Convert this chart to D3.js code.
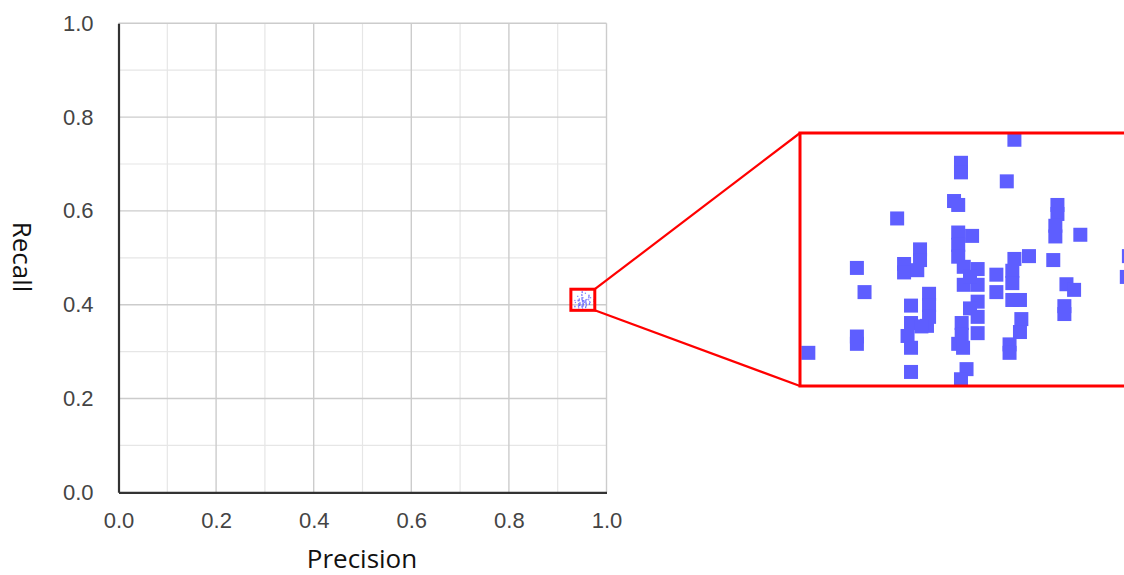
<!DOCTYPE html>
<html>
<head>
<meta charset="utf-8">
<script src="https://cdn.jsdelivr.net/npm/d3@7"></script>
<style>
  body { margin: 0; background: #fff; }
  svg { display: block; }
</style>
</head>
<body>
<svg width="1124" height="575"></svg>
<script>
// precision / recall points
var precision = [
  0.9579, 0.9502, 0.9502, 0.9568, 0.9492, 0.9498, 0.9410, 0.9641, 0.9641, 0.9638,
  0.9638, 0.9674, 0.9744, 0.9741, 0.9635, 0.9352, 0.9363, 0.9443, 0.9443, 0.9420,
  0.9420, 0.9439, 0.9498, 0.9518, 0.9498, 0.9498, 0.9506, 0.9526, 0.9506, 0.9526,
  0.9515, 0.9553, 0.9553, 0.9600, 0.9579, 0.9576, 0.9576, 0.9576, 0.9587, 0.9589,
  0.9587, 0.9572, 0.9572, 0.9654, 0.9665, 0.9651, 0.9651, 0.9456, 0.9456, 0.9456,
  0.9453, 0.9430, 0.9430, 0.9425, 0.9430, 0.9445, 0.9526, 0.9526, 0.9526, 0.9515,
  0.9503, 0.9503, 0.9498, 0.9505, 0.9282, 0.9352, 0.9352, 0.9430, 0.9510, 0.9502
];
var recall = [
  0.4318, 0.4277, 0.4260, 0.4244, 0.4209, 0.4202, 0.4178, 0.4202, 0.4186, 0.4165,
  0.4146, 0.4149, 0.4111, 0.4074, 0.4104, 0.4090, 0.4047, 0.4123, 0.4104, 0.4097,
  0.4082, 0.4086, 0.4153, 0.4147, 0.4131, 0.4110, 0.4092, 0.4088, 0.4060, 0.4060,
  0.4074, 0.4078, 0.4047, 0.4111, 0.4106, 0.4085, 0.4063, 0.4033, 0.4033, 0.3999,
  0.3976, 0.3954, 0.3939, 0.4061, 0.4051, 0.4022, 0.4008, 0.4044, 0.4024, 0.4003,
  0.3987, 0.4023, 0.3992, 0.3969, 0.3948, 0.3986, 0.4030, 0.4003, 0.3974, 0.4018,
  0.3992, 0.3971, 0.3955, 0.3948, 0.3939, 0.3968, 0.3955, 0.3905, 0.3910, 0.3892
];
var ticks = [0, 0.2, 0.4, 0.6, 0.8, 1.0];
var minorTicks = [0.1, 0.3, 0.5, 0.7, 0.9];
var zoomX = [0.927, 0.976];
var zoomY = [0.388, 0.433];

var points = precision.map(function(p, i) { return {x: p, y: recall[i]}; });

var svg = d3.select("svg");
var blue = "#5e5eff";

var x = d3.scaleLinear().domain([0, 1]).range([118.5, 606.5]);
var y = d3.scaleLinear().domain([0, 1]).range([492.3, 23.3]);

// grid
var grid = svg.append("g");
grid.selectAll(".vminor").data(minorTicks).enter().append("line")
    .attr("x1", x).attr("x2", x).attr("y1", y(0)).attr("y2", y(1))
    .attr("stroke", "#e6e6e6").attr("stroke-width", 1.2);
grid.selectAll(".hminor").data(minorTicks).enter().append("line")
    .attr("y1", y).attr("y2", y).attr("x1", x(0)).attr("x2", x(1))
    .attr("stroke", "#e6e6e6").attr("stroke-width", 1.2);
grid.selectAll(".vmajor").data(ticks.slice(1)).enter().append("line")
    .attr("x1", x).attr("x2", x).attr("y1", y(0)).attr("y2", y(1))
    .attr("stroke", "#cccccc").attr("stroke-width", 1.4);
grid.selectAll(".hmajor").data(ticks.slice(1)).enter().append("line")
    .attr("y1", y).attr("y2", y).attr("x1", x(0)).attr("x2", x(1))
    .attr("stroke", "#cccccc").attr("stroke-width", 1.4);

// axes
var xAxis = svg.append("g")
    .attr("transform", "translate(0," + y(0) + ")")
    .call(d3.axisBottom(x).tickValues(ticks).tickFormat(d3.format(".1f")).tickSize(0).tickPadding(20));
var yAxis = svg.append("g")
    .attr("transform", "translate(" + x(0) + ",0)")
    .call(d3.axisLeft(y).tickValues(ticks).tickFormat(d3.format(".1f")).tickSize(0).tickPadding(25));
[xAxis, yAxis].forEach(function(a) {
  a.select(".domain").attr("stroke", "#333").attr("stroke-width", 2.2);
  a.selectAll("text")
      .attr("font-family", "'Liberation Sans', Arial, sans-serif")
      .attr("font-size", 22)
      .attr("fill", "#444");
});

// tiny points in main chart
svg.append("g").selectAll("rect").data(points).enter().append("rect")
    .attr("x", function(d) { return x(d.x) - 0.6; })
    .attr("y", function(d) { return y(d.y) - 0.6; })
    .attr("width", 1.2).attr("height", 1.2)
    .attr("fill", blue).attr("opacity", 0.8);

// inset box
svg.append("rect")
    .attr("x", x(zoomX[0])).attr("y", y(zoomY[1]))
    .attr("width", x(zoomX[1]) - x(zoomX[0]))
    .attr("height", y(zoomY[0]) - y(zoomY[1]))
    .attr("fill", "none").attr("stroke", "red").attr("stroke-width", 3);

// zoomed panel
var zx = d3.scaleLinear().domain(zoomX).range([800, 1140]);
var zy = d3.scaleLinear().domain(zoomY).range([386, 133]);

svg.append("line")
    .attr("x1", x(zoomX[1])).attr("y1", y(zoomY[1]))
    .attr("x2", zx.range()[0]).attr("y2", zy.range()[1])
    .attr("stroke", "red").attr("stroke-width", 2.2);
svg.append("line")
    .attr("x1", x(zoomX[1])).attr("y1", y(zoomY[0]))
    .attr("x2", zx.range()[0]).attr("y2", zy.range()[0])
    .attr("stroke", "red").attr("stroke-width", 2.2);

svg.append("clipPath").attr("id", "zclip").append("rect")
    .attr("x", 800).attr("y", 133).attr("width", 340).attr("height", 253);

svg.append("rect")
    .attr("x", 800).attr("y", 133).attr("width", 340).attr("height", 253)
    .attr("fill", "#fff");

svg.append("g").attr("clip-path", "url(#zclip)")
  .selectAll("rect").data(points).enter().append("rect")
    .attr("x", function(d) { return zx(d.x) - 7; })
    .attr("y", function(d) { return zy(d.y) - 7; })
    .attr("width", 14).attr("height", 14)
    .attr("fill", blue);

svg.append("rect")
    .attr("x", 800).attr("y", 133).attr("width", 340).attr("height", 253)
    .attr("fill", "none").attr("stroke", "red").attr("stroke-width", 3);

// axis titles
svg.append("text")
    .attr("x", 362).attr("y", 568)
    .attr("text-anchor", "middle")
    .attr("font-family", "'Open Sans', 'Noto Sans', sans-serif")
    .attr("font-size", 26).attr("fill", "#111")
    .text("Precision");
svg.append("text")
    .attr("transform", "translate(13,257) rotate(90)")
    .attr("text-anchor", "middle")
    .attr("font-family", "'Open Sans', 'Noto Sans', sans-serif")
    .attr("font-size", 26).attr("fill", "#111")
    .text("Recall");
</script>
</body>
</html>
